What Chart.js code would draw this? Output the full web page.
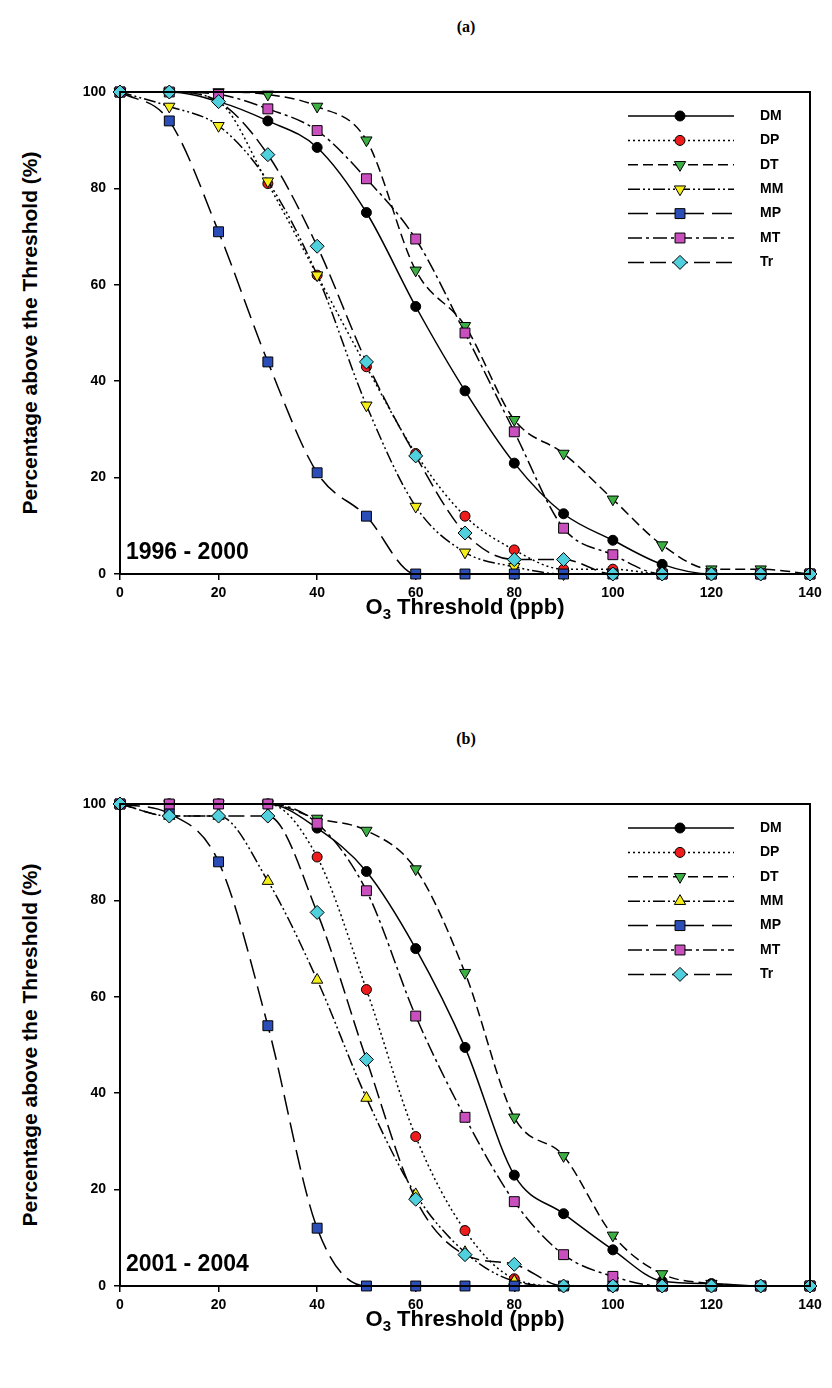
<!DOCTYPE html>
<html>
<head>
<meta charset="utf-8">
<script src="https://cdn.jsdelivr.net/npm/chart.js@4.4.1/dist/chart.umd.min.js"></script>
<style>
  body { margin: 0; background: #fff; width: 832px; height: 1388px; position: relative; font-family: Arial, "Liberation Sans", sans-serif; overflow: hidden; }
  .panel { position: absolute; left: 0; width: 832px; height: 640px; }
  .panel canvas { position: absolute; left: 60px; top: 70px; }
  .tag { position: absolute; left: 466px; top: 27px; transform: translate(-50%, -50%); font: bold 16px "Liberation Serif", "Times New Roman", serif; }
  .ytitle { position: absolute; left: 30px; top: 333px; transform: translate(-50%, -50%) rotate(-90deg); white-space: nowrap; font-weight: bold; font-size: 21px; }
  .xtitle { position: absolute; left: 465px; top: 608px; transform: translate(-50%, -50%); white-space: nowrap; font-weight: bold; font-size: 22px; }
  .xtitle sub { font-size: 15px; }
  .period { position: absolute; left: 126px; top: 538px; font-weight: bold; font-size: 23px; }
</style>
</head>
<body>
<div class="panel" style="top:0">
  <div class="tag">(a)</div>
  <canvas id="chartA" width="772" height="534"></canvas>
  <div class="ytitle">Percentage above the Threshold (%)</div>
  <div class="xtitle">O<sub>3</sub> Threshold (ppb)</div>
  <div class="period">1996 - 2000</div>
</div>
<div class="panel" style="top:712px">
  <div class="tag">(b)</div>
  <canvas id="chartB" width="772" height="534"></canvas>
  <div class="ytitle">Percentage above the Threshold (%)</div>
  <div class="xtitle">O<sub>3</sub> Threshold (ppb)</div>
  <div class="period">2001 - 2004</div>
</div>
<script>
const thresholds = [0, 10, 20, 30, 40, 50, 60, 70, 80, 90, 100, 110, 120, 130, 140];
const seriesNames = ['DM', 'DP', 'DT', 'MM', 'MP', 'MT', 'Tr'];

// (a) 1996 - 2000
const dmA = [100, 100, 98, 94, 88.5, 75, 55.5, 38, 23, 12.5, 7, 2, 0, 0, 0];
const dpA = [100, 100, 98, 81, 62, 43, 25, 12, 5, 1, 1, 0, 0, 0, 0];
const dtA = [100, 100, 100, 99.5, 97, 90, 63, 51.5, 32, 25, 15.5, 6, 1, 1, 0];
const mmA = [100, 97, 93, 81.5, 62, 35, 14, 4.5, 1.5, 0, 0, 0, 0, 0, 0];
const mpA = [100, 94, 71, 44, 21, 12, 0, 0, 0, 0, 0, 0, 0, 0, 0];
const mtA = [100, 100, 99.5, 96.5, 92, 82, 69.5, 50, 29.5, 9.5, 4, 0, 0, 0, 0];
const trA = [100, 100, 98, 87, 68, 44, 24.5, 8.5, 3, 3, 0, 0, 0, 0, 0];

// (b) 2001 - 2004
const dmB = [100, 100, 100, 100, 95, 86, 70, 49.5, 23, 15, 7.5, 1, 0.5, 0, 0];
const dpB = [100, 100, 100, 100, 89, 61.5, 31, 11.5, 1.5, 0, 0, 0, 0, 0, 0];
const dtB = [100, 100, 100, 100, 97, 94.5, 86.5, 65, 35, 27, 10.5, 2.5, 0.5, 0, 0];
const mmB = [100, 97.5, 97.5, 84, 63.5, 39, 19, 7, 1, 0, 0, 0, 0, 0, 0];
const mpB = [100, 98, 88, 54, 12, 0, 0, 0, 0, 0, 0, 0, 0, 0, 0];
const mtB = [100, 100, 100, 100, 96, 82, 56, 35, 17.5, 6.5, 2, 0, 0, 0, 0];
const trB = [100, 97.5, 97.5, 97.5, 77.5, 47, 18, 6.5, 4.5, 0, 0, 0, 0, 0, 0];

const styles = {
  DM: { color: '#000000', point: 'circle', rot: 0, size: 5, dash: [] },
  DP: { color: '#ee1c1c', point: 'circle', rot: 0, size: 5, dash: [2, 3] },
  DT: { color: '#3cb043', point: 'triangle', rot: 180, size: 6.5, dash: [10, 5] },
  MM: { color: '#f5ee1a', point: 'triangle', rot: 180, size: 6.5, dash: [12, 3, 2, 3, 2, 3] },
  MP: { color: '#2b4db8', point: 'rect', rot: 0, size: 7, dash: [20, 8] },
  MT: { color: '#c94fbf', point: 'rect', rot: 0, size: 7, dash: [14, 4, 3, 4] },
  Tr: { color: '#4fd0dc', point: 'rectRot', rot: 0, size: 7, dash: [16, 6] }
};

// frame + inside legend
const framePlugin = {
  id: 'frame',
  afterDraw(chart) {
    const { ctx, chartArea: a } = chart;
    ctx.save();
    ctx.strokeStyle = '#000';
    ctx.lineWidth = 2;
    ctx.strokeRect(a.left, a.top, a.right - a.left, a.bottom - a.top);
    chart.data.datasets.forEach((ds, i) => {
      const y = a.top + 24 + i * 24.4;
      ctx.strokeStyle = '#000';
      ctx.setLineDash(ds.borderDash);
      ctx.lineWidth = 1.5;
      ctx.beginPath();
      ctx.moveTo(a.left + 508, y);
      ctx.lineTo(a.left + 614, y);
      ctx.stroke();
      ctx.setLineDash([]);
      ctx.lineWidth = 1;
      ctx.fillStyle = ds.pointBackgroundColor;
      Chart.helpers.drawPoint(ctx, { pointStyle: ds.pointStyle, rotation: ds.pointRotation, radius: ds.pointRadius, borderWidth: 1 }, a.left + 560, y);
      ctx.fillStyle = '#000';
      ctx.font = 'bold 14px Arial, "Liberation Sans", sans-serif';
      ctx.textBaseline = 'middle';
      ctx.fillText(ds.label, a.left + 640, y);
    });
    ctx.restore();
  }
};

function makeChart(id, values, mmRot) {
  const datasets = seriesNames.map((name, i) => {
    const s = styles[name];
    return {
      label: name,
      data: values[i],
      order: seriesNames.length - i, // later series painted on top
      borderColor: '#000',
      borderWidth: 1.5,
      borderDash: s.dash,
      pointStyle: s.point,
      pointRotation: name === 'MM' ? mmRot : s.rot,
      pointRadius: s.size,
      pointBackgroundColor: s.color,
      pointBorderColor: '#000',
      pointBorderWidth: 1,
      cubicInterpolationMode: 'monotone',
      clip: false
    };
  });
  new Chart(document.getElementById(id), {
    type: 'line',
    data: { labels: thresholds, datasets: datasets },
    options: {
      responsive: false,
      animation: false,
      layout: { padding: { left: 10, right: 22, top: 22, bottom: 0 } },
      plugins: { legend: { display: false }, tooltip: { enabled: false } },
      scales: {
        x: {
          type: 'linear', min: 0, max: 140,
          afterFit: s => { s.height = 30; },
          border: { display: false },
          grid: { drawOnChartArea: false, drawTicks: true, tickLength: 6, color: '#000', lineWidth: 1.5 },
          ticks: { stepSize: 20, padding: 5, color: '#000', font: { weight: 'bold', size: 14 } }
        },
        y: {
          min: 0, max: 100,
          afterFit: s => { s.width = 50; },
          border: { display: false },
          grid: { drawOnChartArea: false, drawTicks: true, tickLength: 6, color: '#000', lineWidth: 1.5 },
          ticks: { stepSize: 20, padding: 8, color: '#000', font: { weight: 'bold', size: 14 } }
        }
      }
    },
    plugins: [framePlugin]
  });
}

makeChart('chartA', [dmA, dpA, dtA, mmA, mpA, mtA, trA], 180);
makeChart('chartB', [dmB, dpB, dtB, mmB, mpB, mtB, trB], 0);
</script>
</body>
</html>
